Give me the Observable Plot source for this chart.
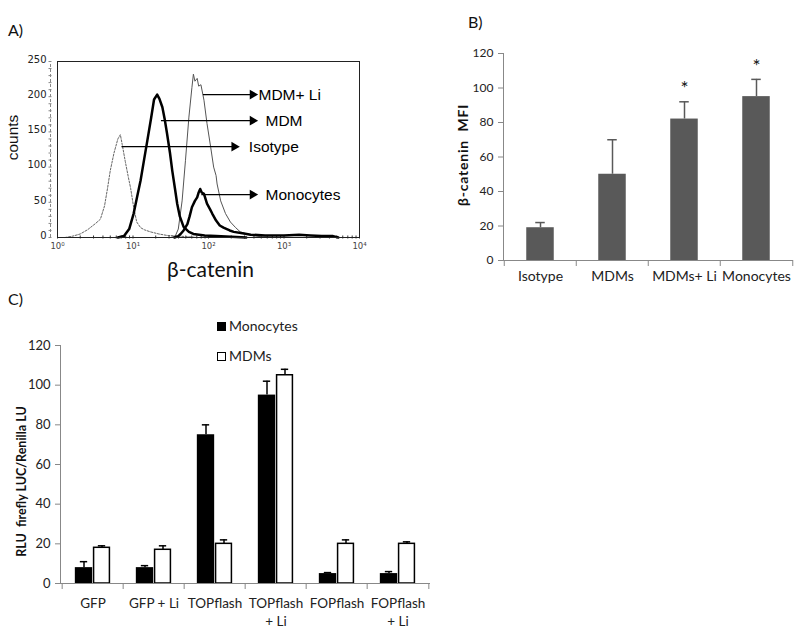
<!DOCTYPE html>
<html><head><meta charset="utf-8">
<script src="https://cdn.jsdelivr.net/npm/d3@7"></script>
<script src="https://cdn.jsdelivr.net/npm/@observablehq/plot@0.6"></script>
<style>
body{margin:0;background:#fff;}
#root{position:relative;width:800px;height:630px;overflow:hidden;font-family:Lato,sans-serif;color:#111;}
.lbl{position:absolute;font-family:Lato,sans-serif;white-space:nowrap;}
</style></head><body><div id="root"></div>
<script>
// ---------- Panel A: flow histogram (x = β-catenin intensity, y = counts) ----------
const isotypeIntensity = [1.26,1.6,2.0,2.5,3.2,3.7,4.2,4.6,5.0,5.6,6.3,6.8,7.2,7.9,8.7,9.3,10.2,11.2,12.6,14.1,17,22,28,40,56,71];
const isotypeCounts    = [0,2,5,11,20,26,45,70,95,120,140,146,132,108,85,70,43,22,14,11,8,5,3,2,1,0];
const mdmIntensity = [6.3,7.6,8.9,10.2,11.2,12.6,14.1,15.5,17.4,19,20.9,22.4,24.5,26.3,28.2,30.9,33.1,35.9,38.5,41.7,46.8,55,63,89,126,200,316];
const mdmCounts    = [0,2,12,34,55,81,112,138,170,196,203,197,185,168,148,120,95,70,48,30,15,8,5,3,2,1,0];
const mdmLiIntensity = [31.6,36.3,39.8,44.7,49.5,55,60.3,63.1,66.1,70.8,74.1,79.4,87.1,95.5,107,117,126,130,145,168,195,229,263,363,501,708];
const mdmLiCounts    = [0,2,12,52,109,171,213,232,222,226,215,217,195,162,128,100,88,76,52,34,22,14,8,3,1,0];
const monoIntensity = [35.5,39.8,42.7,46.8,52.5,56.2,60.3,66.1,70.8,74.1,77.6,81.3,87.1,95.5,105,112,126,141,158,191,216,282,363,562,1000,1585,2239,3162,4467,5248];
const monoCounts    = [0,2,5,10,19,30,43,52,57,64,69,64,62,48,40,34,24,17,14,10,8,6,4,3,3,4,3,2,2,0];

const arrowLabels = ["MDM+ Li","MDM","Isotype","Monocytes"];
const arrowStart  = [91, 25.3, 7.6, 86.7];
const arrowTip    = [420, 420, 240, 420];
const arrowCount  = [203, 166, 129, 61];
const labelStart  = [459, 569, 342, 569];

const decades = [1,10,100,1000,10000];
const decadeLabels = ["10\u2070","10\u00b9","10\u00b2","10\u00b3","10\u2074"];
const countTicks = [0,50,100,150,200,250];

// ---------- Panel B: β-catenin MFI ----------
const bCategories = ["Isotype","MDMs","MDMs+ Li","Monocytes"];
const bMFI = [19, 50, 82, 95];
const bErr = [3, 20, 10, 10];
const bStarred = ["MDMs+ Li","Monocytes"];
const bStarY = [99.5, 112.5];
const bTicks = [0,20,40,60,80,100,120];

// ---------- Panel C: luciferase reporter ----------
const cCategories = ["GFP","GFP + Li","TOPflash","TOPflash\n+ Li","FOPflash","FOPflash\n+ Li"];
const cMonocytes = [8, 8, 75, 95, 5, 5];
const cMonoErr   = [3, 1, 5, 7, 0.5, 1];
const cMDMs      = [18, 17, 20, 105, 20, 20];
const cMDMErr    = [1, 2, 2, 3, 2, 1];
const cTicks = [0,20,40,60,80,100,120];

const root = document.getElementById("root");
function place(el, left, top){ el.style.position="absolute"; el.style.left=left+"px"; el.style.top=top+"px"; root.appendChild(el); }
function label(text, left, top, css){ const d=document.createElement("div"); d.className="lbl"; d.textContent=text; Object.assign(d.style, css||{}); place(d,left,top); return d; }
function spaceText(svg, startsWith, spacing){
  d3.select(svg).selectAll("text").filter(function(){ return this.textContent.startsWith(startsWith); })
    .style("letter-spacing", spacing).style("white-space", "pre");
}

// ----- Panel A -----
const toRows = (xs, ys) => xs.map((x,i)=>({x, y: ys[i]}));
const isoRows = toRows(isotypeIntensity, isotypeCounts);
const mdmRows = toRows(mdmIntensity, mdmCounts);
const mdmLiRows = toRows(mdmLiIntensity, mdmLiCounts);
const monoRows = toRows(monoIntensity, monoCounts);
const arrows = arrowLabels.map((t,i)=>({t, x1: arrowStart[i], x2: arrowTip[i], y: arrowCount[i], tx: labelStart[i]}));
const minorTicksA = [];
for (let e = 0; e < 4; e++) for (let m = 1; m < 10; m++) minorTicksA.push(m * 10 ** e);
minorTicksA.push(10000);

const plotA = Plot.plot({
  width: 380, height: 290,
  marginLeft: 57, marginRight: 21, marginTop: 61, marginBottom: 53,
  x: {type: "log", domain: [1, 10000]},
  y: {domain: [0, 250]},
  style: {fontFamily: "'DejaVu Sans', sans-serif", background: "transparent", overflow: "visible"},
  marks: [
    Plot.ruleX([1], {y1: 0, y2: 250, dx: -7, stroke: "#888", strokeDasharray: "3,2"}),
    Plot.axisY(d3.range(0, 251, 10), {tickSize: 3, dx: -5.5, tickFormat: () => "", stroke: "#888", label: null}),
    Plot.axisY(countTicks, {tickSize: 0, tickPadding: 11, fontSize: 10, fill: "#222", dy: -2, label: null}),
    Plot.axisX(minorTicksA, {tickSize: 3, dy: -1.5, tickFormat: () => "", stroke: "#333", label: null}),
    Plot.axisX(decades, {tickSize: 0, tickPadding: 5, fontSize: 8.5, fill: "#444", tickFormat: d => decadeLabels[decades.indexOf(d)], label: null}),
    Plot.line(isoRows, {x: "x", y: "y", stroke: "#666", strokeWidth: 1, strokeDasharray: "2,1.5"}),
    Plot.line(mdmLiRows, {x: "x", y: "y", stroke: "#555", strokeWidth: 1}),
    Plot.line(mdmRows, {x: "x", y: "y", stroke: "#000", strokeWidth: 2.5}),
    Plot.line(monoRows, {x: "x", y: "y", stroke: "#000", strokeWidth: 2.5}),
    Plot.frame({stroke: "#222"}),
    Plot.ruleY(arrows, {y: "y", x1: "x1", x2: "x2", stroke: "#000", strokeWidth: 1.3, dx: -2}),
    Plot.dot(arrows, {x: "x2", y: "y", symbol: "triangle", rotate: 90, r: 3.6, fill: "#000", stroke: "none", dx: -3}),
    Plot.text(arrows, {x: "tx", y: "y", text: "t", textAnchor: "start", fontSize: 15.5, fontFamily: "'Liberation Sans', Arial, sans-serif", fill: "#000"}),
    Plot.text(["β-catenin"], {frameAnchor: "bottom", lineAnchor: "middle", dy: 33, dx: 2, fontSize: 21, fontFamily: "Lato, sans-serif", fill: "#111"}),
    Plot.text(["counts"], {frameAnchor: "left", textAnchor: "middle", rotate: -90, dx: -44, dy: -12, fontSize: 15.5, fontFamily: "'Liberation Sans', Arial, sans-serif", fill: "#111"})
  ]
});
place(plotA, 0, 0);

// ----- Panel B -----
const bRows = bCategories.map((c,i)=>({c, v: bMFI[i], hi: bMFI[i] + bErr[i]}));
const bStars = bStarred.map((c,i)=>({c, y: bStarY[i]}));
const bW = 360, bML = 63, bMR = 7;
const bBand = (bW - bML - bMR) / bCategories.length;
const plotB = Plot.plot({
  width: bW, height: 270,
  marginLeft: bML, marginRight: bMR, marginTop: 23, marginBottom: 40,
  x: {domain: bCategories, padding: 0},
  y: {domain: [0, 120]},
  style: {fontFamily: "Lato, sans-serif", background: "transparent", overflow: "visible"},
  marks: [
    Plot.barY(bRows, {x: "c", y: "v", fill: "#595959", insetLeft: (bBand - 28) / 2, insetRight: (bBand - 28) / 2}),
    Plot.ruleX(bRows, {x: "c", y1: "v", y2: "hi", stroke: "#595959", strokeWidth: 1.5}),
    Plot.tickY(bRows, {x: "c", y: "hi", stroke: "#595959", strokeWidth: 1.5, insetLeft: bBand / 2 - 5, insetRight: bBand / 2 - 5}),
    Plot.text(bStars, {x: "c", y: "y", text: () => "*", fontSize: 19, fill: "#111"}),
    Plot.ruleY([0], {stroke: "#888"}),
    Plot.frame({anchor: "left", stroke: "#888"}),
    Plot.axisX(bCategories, {tickSize: 6, dx: -bBand / 2, tickFormat: () => "", stroke: "#888", label: null}),
    Plot.axisX([bCategories[bCategories.length - 1]], {tickSize: 6, dx: bBand / 2, tickFormat: () => "", stroke: "#888", label: null}),
    Plot.text(bCategories, {x: d => d, frameAnchor: "bottom", lineAnchor: "top", dy: 11, fontSize: 14, fill: "#222"}),
    Plot.axisY(bTicks, {tickSize: 5, tickPadding: 5, fontSize: 12, fill: "#222", stroke: "#888", label: null}),
    Plot.text(["β-catenin  MFI"], {frameAnchor: "left", textAnchor: "middle", rotate: -90, dx: -40, dy: -2, fontSize: 14, fontWeight: "bold", fill: "#111"})
  ]
});
spaceText(plotB, "β-catenin", "0.8px");
place(plotB, 440, 30);

// ----- Panel C -----
const cRows = cCategories.map((c,i)=>({c, mono: cMonocytes[i], monoHi: cMonocytes[i] + cMonoErr[i], mdm: cMDMs[i], mdmHi: cMDMs[i] + cMDMErr[i]}));
const cW = 440, cML = 60, cMR = 10;
const cBand = (cW - cML - cMR) / cCategories.length;
const barW = 18, capW = 8;
const plotC = Plot.plot({
  width: cW, height: 330,
  marginLeft: cML, marginRight: cMR, marginTop: 45, marginBottom: 47,
  x: {domain: cCategories, padding: 0},
  y: {domain: [0, 120]},
  style: {fontFamily: "Lato, sans-serif", background: "transparent", overflow: "visible"},
  marks: [
    Plot.barY(cRows, {x: "c", y: "mono", fill: "#000", insetLeft: cBand / 2 - barW, insetRight: cBand / 2}),
    Plot.barY(cRows, {x: "c", y: "mdm", fill: "#fff", stroke: "#000", strokeWidth: 1.5, insetLeft: cBand / 2 + 0.75, insetRight: cBand / 2 - barW + 0.75}),
    Plot.ruleX(cRows, {x: "c", y1: "mono", y2: "monoHi", stroke: "#000", strokeWidth: 1.5, dx: -barW / 2}),
    Plot.tickY(cRows, {x: "c", y: "monoHi", stroke: "#000", strokeWidth: 1.5, insetLeft: cBand / 2 - barW / 2 - capW / 2, insetRight: cBand / 2 + barW / 2 - capW / 2}),
    Plot.ruleX(cRows, {x: "c", y1: "mdm", y2: "mdmHi", stroke: "#000", strokeWidth: 1.5, dx: barW / 2}),
    Plot.tickY(cRows, {x: "c", y: "mdmHi", stroke: "#000", strokeWidth: 1.5, insetLeft: cBand / 2 + barW / 2 - capW / 2, insetRight: cBand / 2 - barW / 2 - capW / 2}),
    Plot.ruleY([0], {stroke: "#888"}),
    Plot.frame({anchor: "left", stroke: "#888"}),
    Plot.axisX(cCategories, {tickSize: 6, dx: -cBand / 2, tickFormat: () => "", stroke: "#888", label: null}),
    Plot.axisX([cCategories[cCategories.length - 1]], {tickSize: 6, dx: cBand / 2, tickFormat: () => "", stroke: "#888", label: null}),
    Plot.text(cCategories, {x: d => d, frameAnchor: "bottom", lineAnchor: "top", dy: 12, lineHeight: 1.33, fontSize: 13.5, fill: "#222"}),
    Plot.axisY(cTicks, {tickSize: 5, tickPadding: 5, fontSize: 13, fill: "#222", stroke: "#888", label: null}),
    Plot.text(["RLU  firefly LUC/Renilla LU"], {frameAnchor: "left", textAnchor: "middle", rotate: -90, dx: -39, dy: 17, fontSize: 12.5, fontWeight: "bold", fill: "#111"})
  ]
});
spaceText(plotC, "RLU", "0px");
place(plotC, 0, 300);

// ----- panel letters and legend -----
label("A)", 8, 21, {fontSize: "16px", lineHeight: "18px"});
label("B)", 468, 13, {fontSize: "16px", lineHeight: "18px"});
label("C)", 8, 290, {fontSize: "16px", lineHeight: "18px"});

const legendSeries = ["Monocytes", "MDMs"];
const legendFill = ["#000", "#fff"];
const legendTop = [322, 352];
legendSeries.forEach((s, i) => {
  const sw = document.createElement("div");
  Object.assign(sw.style, {width: "9px", height: "9px", boxSizing: "border-box", background: legendFill[i], border: "1.3px solid #000"});
  place(sw, 217, legendTop[i]);
  label(s, 229, legendTop[i] - 5, {fontSize: "14px", lineHeight: "18px", color: "#222"});
});
</script></body></html>
